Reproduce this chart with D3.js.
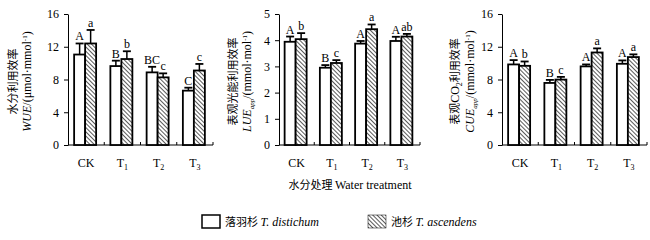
<!DOCTYPE html>
<html>
<head>
<meta charset="utf-8">
<script src="https://cdn.jsdelivr.net/npm/d3@7"></script>
<style>
  body { margin: 0; background: #fff; }
  svg text { font-family: "Liberation Serif", "Times New Roman", serif; fill: #000; }
  .cjk { font-family: "Noto Sans CJK SC", sans-serif; }
</style>
</head>
<body>
<svg id="chart" width="650" height="240"></svg>
<script>
const categories = ["CK", "T1", "T2", "T3"];
const catLabels = [["CK", ""], ["T", "1"], ["T", "2"], ["T", "3"]];

// WUE
const wueDist = [11.05, 9.64, 8.87, 6.64];
const wueDistErr = [1.35, 0.66, 0.68, 0.36];
const wueAsc = [12.4, 10.5, 8.26, 9.1];
const wueAscErr = [1.65, 0.95, 0.49, 0.8];
const wueDistLetters = ["A", "B", "BC", "C"];
const wueAscLetters = ["a", "b", "c", "c"];
const wueTicks = [0, 4, 8, 12, 16];

// LUE
const lueDist = [3.94, 2.95, 3.87, 3.97];
const lueDistErr = [0.2, 0.1, 0.1, 0.16];
const lueAsc = [4.04, 3.13, 4.42, 4.14];
const lueAscErr = [0.23, 0.11, 0.18, 0.1];
const lueDistLetters = ["A", "B", "A", "A"];
const lueAscLetters = ["b", "c", "a", "ab"];
const lueTicks = [0, 1, 2, 3, 4, 5];

// CUE
const cueDist = [9.84, 7.58, 9.6, 9.92];
const cueDistErr = [0.53, 0.37, 0.24, 0.41];
const cueAsc = [9.67, 7.99, 11.3, 10.74];
const cueAscErr = [0.53, 0.33, 0.5, 0.33];
const cueDistLetters = ["A", "B", "A", "A"];
const cueAscLetters = ["b", "c", "a", "a"];
const cueTicks = [0, 4, 8, 12, 16];

const svg = d3.select("#chart");

// hatch pattern for T. ascendens
const defs = svg.append("defs");
const pat = defs.append("pattern")
    .attr("id", "hatch")
    .attr("patternUnits", "userSpaceOnUse")
    .attr("width", 3).attr("height", 3)
    .attr("patternTransform", "rotate(-45)");
pat.append("rect").attr("width", 3).attr("height", 3).attr("fill", "#fff");
pat.append("line").attr("x1", 0).attr("y1", 0).attr("x2", 0).attr("y2", 3)
    .attr("stroke", "#000").attr("stroke-width", 1.3);

function drawPanel(p) {
    const top = 14, bottom = 145;
    const x = d3.scaleBand().domain(categories).range([p.x0, p.x1]);
    const y = d3.scaleLinear().domain([0, p.max]).range([bottom, top]);
    const barW = 11;
    const g = svg.append("g");

    // y axis
    g.append("g")
        .attr("transform", `translate(${p.x0},0)`)
        .call(d3.axisLeft(y).tickValues(p.ticks).tickFormat(d3.format("d")).tickSize(4).tickSizeOuter(0))
        .call(a => a.select(".domain").attr("stroke", "#000"))
        .call(a => a.selectAll("text").style("font-size", "12px").style("font-family", "Liberation Serif, serif").attr("dx", "-2"));

    // x axis line with inward ticks between categories
    g.append("line").attr("x1", p.x0).attr("x2", p.x1).attr("y1", bottom).attr("y2", bottom)
        .attr("stroke", "#000").attr("stroke-width", 1);
    categories.forEach(c => {
        const tx = x(c) + x.bandwidth();
        g.append("line").attr("x1", tx).attr("x2", tx).attr("y1", bottom).attr("y2", bottom - 3)
            .attr("stroke", "#000");
    });

    // category labels
    categories.forEach((c, i) => {
        const t = g.append("text")
            .attr("x", x(c) + x.bandwidth() / 2)
            .attr("y", 167)
            .attr("text-anchor", "middle")
            .style("font-size", "12px");
        t.append("tspan").text(catLabels[i][0]);
        if (catLabels[i][1]) t.append("tspan").attr("dy", 3).style("font-size", "8px").text(catLabels[i][1]);
    });

    const series = [
        { vals: p.dist, err: p.distErr, letters: p.distLetters, fill: "#fff", off: -barW },
        { vals: p.asc, err: p.ascErr, letters: p.ascLetters, fill: "url(#hatch)", off: 0 }
    ];
    series.forEach(s => {
        categories.forEach((c, i) => {
            const cx = x(c) + x.bandwidth() / 2 - 1 + s.off;
            const v = s.vals[i];
            const e = s.err[i];
            const xm = cx + barW / 2;
            // error bar (upper only)
            g.append("line").attr("x1", xm).attr("x2", xm).attr("y1", y(v)).attr("y2", y(v + e))
                .attr("stroke", "#000").attr("stroke-width", 1.5);
            g.append("line").attr("x1", xm - 4).attr("x2", xm + 4).attr("y1", y(v + e)).attr("y2", y(v + e))
                .attr("stroke", "#000").attr("stroke-width", 1.8);
            g.append("rect")
                .attr("x", cx).attr("y", y(v))
                .attr("width", barW).attr("height", bottom - y(v))
                .attr("fill", s.fill).attr("stroke", "#000").attr("stroke-width", 1.8);
            g.append("text")
                .attr("x", xm).attr("y", y(v + e) - 3)
                .attr("text-anchor", "middle")
                .style("font-size", "12px")
                .text(s.letters[i]);
        });
    });

    // y label, two lines
    const my = (top + bottom) / 2 + 2;
    g.append("text")
        .attr("class", "cjk")
        .attr("transform", `translate(${p.lx1},${my}) rotate(-90)`)
        .attr("text-anchor", "middle")
        .style("font-size", "11px")
        .call(t => {
            p.label1.forEach(seg => {
                const ts = t.append("tspan").text(seg.t);
                if (seg.sub) ts.attr("dy", 3).style("font-size", "8px").style("font-family", "Liberation Serif, serif");
                else if (seg.up) ts.attr("dy", -3);
                if (seg.serif) ts.style("font-family", "Liberation Serif, serif").style("font-size", "12px");
            });
        });
    g.append("text")
        .attr("transform", `translate(${p.lx2},${my}) rotate(-90)`)
        .attr("text-anchor", "middle")
        .style("font-size", "12px")
        .call(t => {
            t.append("tspan").style("font-style", "italic").text(p.abbr);
            if (p.sub) t.append("tspan").attr("dy", 3).style("font-size", "7px").style("font-style", "italic").text(p.sub);
            t.append("tspan").attr("dy", p.sub ? -3 : 0).text("/(" + p.unit);
            t.append("tspan").attr("dy", -4).style("font-size", "7px").text("-1");
            t.append("tspan").attr("dy", 4).text(")");
        });
}

drawPanel({
    x0: 68, x1: 213, max: 16, ticks: wueTicks,
    dist: wueDist, distErr: wueDistErr, distLetters: wueDistLetters,
    asc: wueAsc, ascErr: wueAscErr, ascLetters: wueAscLetters,
    lx1: 17, lx2: 31,
    label1: [{ t: "水分利用效率" }],
    abbr: "WUE", sub: "", unit: "μmol·mmol"
});
drawPanel({
    x0: 279, x1: 420, max: 5, ticks: lueTicks,
    dist: lueDist, distErr: lueDistErr, distLetters: lueDistLetters,
    asc: lueAsc, ascErr: lueAscErr, ascLetters: lueAscLetters,
    lx1: 237, lx2: 251,
    label1: [{ t: "表观光能利用效率" }],
    abbr: "LUE", sub: "app", unit: "mmol·mol"
});
drawPanel({
    x0: 502, x1: 647, max: 16, ticks: cueTicks,
    dist: cueDist, distErr: cueDistErr, distLetters: cueDistLetters,
    asc: cueAsc, ascErr: cueAscErr, ascLetters: cueAscLetters,
    lx1: 459, lx2: 474,
    label1: [{ t: "表观" }, { t: "CO", serif: true }, { t: "2", sub: true }, { t: "利用效率", up: true }],
    abbr: "CUE", sub: "app", unit: "mmol·mol"
});

// x title
const xt = svg.append("text").attr("x", 350).attr("y", 189).attr("text-anchor", "middle").style("font-size", "11px");
xt.append("tspan").style("font-family", "Noto Sans CJK SC, sans-serif").text("水分处理 ");
xt.append("tspan").style("font-size", "12px").text("Water treatment");

// legend
const legendItems = [
    { cn: "落羽杉 ", la: "T. distichum", fill: "#fff", x: 202 },
    { cn: "池杉 ", la: "T. ascendens", fill: "url(#hatch)", x: 368 }
];
legendItems.forEach(d => {
    svg.append("rect").attr("x", d.x).attr("y", 215).attr("width", 18).attr("height", 13)
        .attr("fill", d.fill).attr("stroke", "#000").attr("stroke-width", d.fill === "#fff" ? 1.5 : 0.5);
    const t = svg.append("text").attr("x", d.x + 23).attr("y", 226).style("font-size", "11px");
    t.append("tspan").style("font-family", "Noto Sans CJK SC, sans-serif").text(d.cn);
    t.append("tspan").style("font-style", "italic").style("font-size", "12px").text(d.la);
});
</script>
</body>
</html>
